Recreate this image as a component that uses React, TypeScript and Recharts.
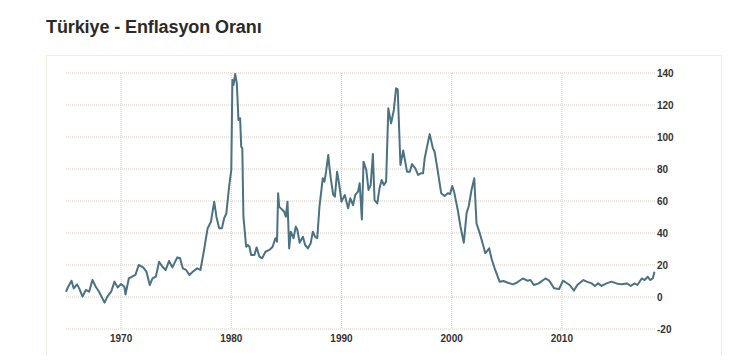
import { LineChart, Line, XAxis, YAxis, CartesianGrid } from "recharts";

// decimal year of each reading
const years = [
  1965.0, 1965.2, 1965.5, 1965.7, 1966.0, 1966.2, 1966.5, 1966.8, 1967.1, 1967.4,
  1967.7, 1968.0, 1968.5, 1968.75, 1969.1, 1969.4, 1969.7, 1970.0, 1970.3, 1970.4,
  1970.7, 1971.0, 1971.3, 1971.6, 1972.0, 1972.3, 1972.6, 1972.85, 1973.15, 1973.45,
  1973.75, 1974.05, 1974.35, 1974.65, 1975.1, 1975.35, 1975.6, 1975.9, 1976.2, 1976.5,
  1976.9, 1977.2, 1977.5, 1977.85, 1978.15, 1978.45, 1978.65, 1978.9, 1979.15, 1979.35,
  1979.55, 1979.8, 1980.0, 1980.1, 1980.2, 1980.35, 1980.5, 1980.65, 1980.8, 1980.9,
  1981.0, 1981.1, 1981.35, 1981.5, 1981.65, 1981.8, 1982.1, 1982.3, 1982.55, 1982.8,
  1983.1, 1983.45, 1983.75, 1984.0, 1984.15, 1984.25, 1984.35, 1984.5, 1984.8, 1984.95,
  1985.1, 1985.25, 1985.4, 1985.65, 1985.85, 1986.0, 1986.2, 1986.5, 1986.7, 1986.95,
  1987.2, 1987.4, 1987.6, 1987.8, 1988.0, 1988.3, 1988.45, 1988.6, 1988.8, 1988.9,
  1989.05, 1989.25, 1989.4, 1989.6, 1989.8, 1990.0, 1990.3, 1990.6, 1990.8, 1991.05,
  1991.25, 1991.5, 1991.65, 1991.85, 1992.0, 1992.25, 1992.45, 1992.65, 1992.85, 1993.0,
  1993.25, 1993.45, 1993.65, 1993.85, 1994.05, 1994.25, 1994.5, 1994.75, 1994.95, 1995.1,
  1995.35, 1995.6, 1995.95, 1996.2, 1996.4, 1996.7, 1996.95, 1997.2, 1997.4, 1997.55,
  1998.0, 1998.3, 1998.45, 1998.7, 1999.05, 1999.35, 1999.65, 1999.85, 2000.05, 2000.25,
  2000.55, 2000.8, 2001.1, 2001.35, 2001.55, 2001.8, 2002.05, 2002.25, 2002.55, 2002.85,
  2003.05, 2003.4, 2003.65, 2003.95, 2004.35, 2004.7, 2005.1, 2005.55, 2005.9, 2006.45,
  2006.85, 2007.15, 2007.45, 2007.9, 2008.5, 2008.85, 2009.3, 2009.75, 2010.1, 2010.4,
  2010.7, 2011.1, 2011.4, 2011.95, 2012.25, 2012.7, 2013.0, 2013.3, 2013.6, 2014.05,
  2014.5, 2014.95, 2015.4, 2015.9, 2016.25, 2016.6, 2016.85, 2017.25, 2017.5, 2017.8,
  2018.0, 2018.25, 2018.4,
];

// inflation rate, %
const inflation = [
  3.3, 6.4, 10.2, 5.4, 7.9, 5.4, 0.2, 4.4, 3.3, 10.6,
  6.4, 3.3, -3.5, 0.2, 3.3, 9.6, 6.0, 8.1, 6.4, 1.6,
  11.6, 12.7, 13.8, 20.0, 18.5, 15.8, 7.5, 11.6, 12.7, 22.0,
  18.9, 16.9, 22.5, 18.5, 24.8, 24.2, 17.9, 16.9, 13.8, 15.8,
  17.9, 16.9, 28.3, 42.9, 47.0, 59.6, 50.2, 42.9, 42.9, 49.2,
  52.3, 68.9, 79.4, 135.6, 132.5, 139.4, 133.6, 110.6, 111.7, 94.0,
  92.9, 50.2, 31.4, 32.5, 31.4, 26.2, 26.2, 31.0, 25.2, 24.2,
  28.3, 29.4, 31.4, 36.7, 34.6, 64.8, 56.4, 55.4, 53.3, 50.2,
  59.6, 30.4, 40.8, 36.7, 44.0, 41.9, 33.9, 37.7, 32.5, 30.4,
  33.5, 40.8, 37.7, 36.7, 56.4, 74.2, 72.1, 78.3, 88.8, 81.5,
  73.1, 63.8, 62.7, 78.3, 70.0, 59.6, 63.8, 55.4, 61.7, 57.5,
  63.8, 65.8, 71.1, 48.5, 84.6, 79.4, 66.9, 70.0, 89.4, 60.6,
  58.5, 67.9, 73.1, 70.0, 72.1, 117.9, 108.5, 116.9, 130.4, 129.8,
  82.5, 91.5, 78.3, 78.3, 83.1, 80.4, 76.3, 77.3, 77.3, 86.7,
  101.8, 92.9, 90.8, 80.4, 64.8, 63.1, 64.8, 64.4, 69.4, 64.8,
  54.4, 43.9, 33.9, 52.3, 56.9, 66.9, 74.2, 46.1, 39.8, 32.5,
  27.3, 30.4, 23.1, 16.9, 9.6, 10.0, 8.9, 7.9, 8.9, 11.6,
  10.2, 10.6, 7.5, 8.5, 11.6, 10.2, 5.4, 5.0, 10.2, 8.9,
  7.5, 4.0, 7.5, 10.6, 9.6, 8.5, 6.9, 8.5, 6.9, 8.5,
  9.6, 8.5, 7.9, 8.5, 6.9, 8.5, 7.5, 11.6, 10.6, 12.7,
  10.6, 11.6, 15.8,
];

const xTicks = [1970, 1980, 1990, 2000, 2010];
const yTicks = [-20, 0, 20, 40, 60, 80, 100, 120, 140];

const data = years.map((year, i) => ({ year, rate: inflation[i] }));

const tickStyle = {
  fontFamily: "Arial, 'Liberation Sans', sans-serif",
  fontSize: 10,
  fontWeight: 700,
  fill: "#333",
};

export default function App() {
  return (
    <div
      style={{
        position: "relative",
        width: 744,
        height: 364,
        margin: -8,
        overflow: "hidden",
        background: "#fff",
      }}
    >
      <div
        style={{
          position: "absolute",
          left: 46,
          top: 17,
          fontFamily: "'Helvetica Neue', Arial, 'Liberation Sans', sans-serif",
          fontSize: 18,
          lineHeight: "21px",
          fontWeight: 700,
          color: "#2a2a2a",
          letterSpacing: -0.1,
        }}
      >
        Türkiye - Enflasyon Oranı
      </div>
      <div
        style={{
          position: "absolute",
          left: 46,
          top: 55,
          width: 674,
          height: 330,
          border: "1px solid #f3efe3",
          background: "#fff",
        }}
      />
      <div style={{ position: "absolute", left: 48, top: 362, width: 277, height: 2, background: "#c4c4c4" }} />
      <div style={{ position: "absolute", left: 629, top: 362, width: 88, height: 2, background: "#c4c4c4" }} />
      <div style={{ position: "absolute", left: 0, top: 0 }}>
        <LineChart
          width={744}
          height={364}
          data={data}
          margin={{ top: 73, right: 49, bottom: 5, left: 66 }}
        >
          <CartesianGrid
            stroke="#d9cfb4"
            strokeDasharray="1 1"
            syncWithTicks
          />
          <XAxis
            dataKey="year"
            type="number"
            domain={[1965, 2018.45]}
            ticks={xTicks}
            axisLine={false}
            tickLine={false}
            tickSize={0}
            tickMargin={6}
            height={30}
            tick={tickStyle}
            interval={0}
          />
          <YAxis
            orientation="right"
            type="number"
            domain={[-20, 140]}
            ticks={yTicks}
            axisLine={false}
            tickLine={false}
            tickSize={0}
            tickMargin={2}
            width={40}
            tick={{ ...tickStyle, textAnchor: "start" }}
            interval={0}
          />
          <Line
            type="linear"
            dataKey="rate"
            stroke="#4a7282"
            strokeWidth={2}
            dot={false}
            isAnimationActive={false}
            strokeLinejoin="round"
          />
        </LineChart>
      </div>
    </div>
  );
}
